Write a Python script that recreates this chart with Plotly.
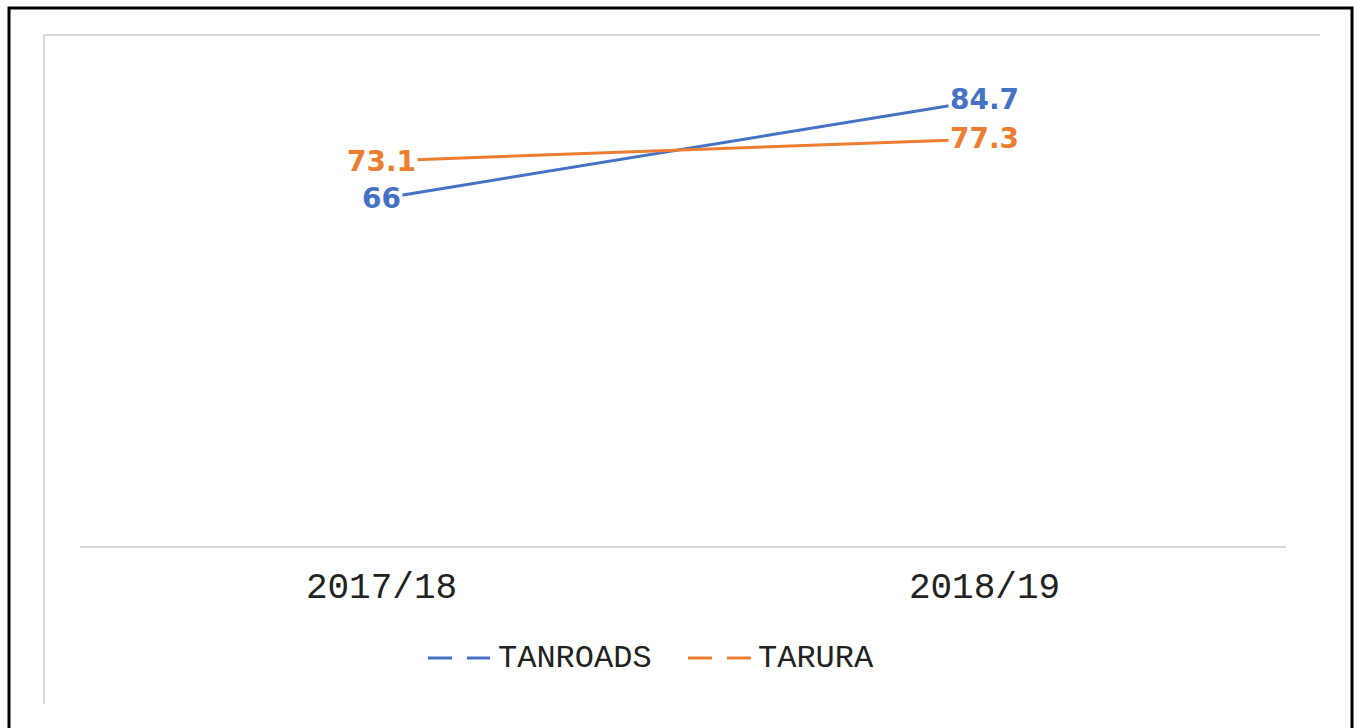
import plotly.graph_objects as go

# ---- data ----
categories = ["2017/18", "2018/19"]
tanroads = [66, 84.7]
tarura = [73.1, 77.3]
series_names = ["TANROADS", "TARURA"]
series_colors = ["#4472C4", "#ED7D31"]

W, H = 1357, 728
L, R, T, B = 80, 1286, 72, 546
Y_MAX = 90


def px2x(px):
    return (px - L) / (R - L)


def py2y(py):
    return (B - py) / (B - T)


fig = go.Figure()
for name, vals, col in zip(series_names, [tanroads, tarura], series_colors):
    fig.add_trace(go.Scatter(x=categories, y=vals, mode="lines", name=name,
                             line=dict(color=col, width=3), showlegend=False,
                             hoverinfo="skip"))
    for c, v in zip(categories, vals):
        fig.add_annotation(x=c, y=v, xref="x", yref="y", text=f"{v:g}",
                           showarrow=False, bgcolor="white", borderpad=1,
                           font=dict(family="DejaVu Sans", size=28, color=col, weight="bold"),
                           xanchor="center", yanchor="middle")

shapes = []
# outer black border
shapes.append(dict(type="rect", xref="paper", yref="paper",
                   x0=px2x(9), x1=px2x(1352), y0=py2y(740), y1=py2y(8),
                   line=dict(color="black", width=3), fillcolor="rgba(0,0,0,0)", layer="above"))
# inner grey frame (top and left lines)
shapes.append(dict(type="line", xref="paper", yref="paper",
                   x0=px2x(44), x1=px2x(1320), y0=py2y(35), y1=py2y(35),
                   line=dict(color="#d9d9d9", width=2)))
shapes.append(dict(type="line", xref="paper", yref="paper",
                   x0=px2x(44), x1=px2x(44), y0=py2y(35), y1=py2y(704),
                   line=dict(color="#d9d9d9", width=2)))

# manual legend
legend_items = [(428, 490, 497), (688, 753, 757)]
for (x0, x1, tx), name, col in zip(legend_items, series_names, series_colors):
    shapes.append(dict(type="line", xref="paper", yref="paper",
                       x0=px2x(x0), x1=px2x(x1), y0=py2y(658), y1=py2y(658),
                       line=dict(color=col, width=3, dash="24px,15px")))
    fig.add_annotation(x=px2x(tx), y=py2y(658), xref="paper", yref="paper",
                       text=name, showarrow=False, xanchor="left", yanchor="middle",
                       borderpad=0,
                       font=dict(family="Liberation Mono", size=32, color="#222222"))

fig.update_layout(
    width=W, height=H,
    margin=dict(l=L, r=W - R, t=T, b=H - B, pad=0),
    paper_bgcolor="white", plot_bgcolor="white",
    shapes=shapes,
    showlegend=False,
)
fig.update_xaxes(type="category", range=[-0.5, 1.5], showgrid=False, zeroline=False,
                 showline=True, linecolor="#d9d9d9", linewidth=2, ticks="",
                 ticklabelstandoff=7,
                 tickfont=dict(family="Liberation Mono", size=36, color="#222222"))
fig.update_yaxes(range=[0, Y_MAX], visible=False, showgrid=False, zeroline=False)

fig.write_html("out.html", config={"displayModeBar": False},
               post_script="document.body.style.margin='0';document.body.style.overflow='hidden';")
